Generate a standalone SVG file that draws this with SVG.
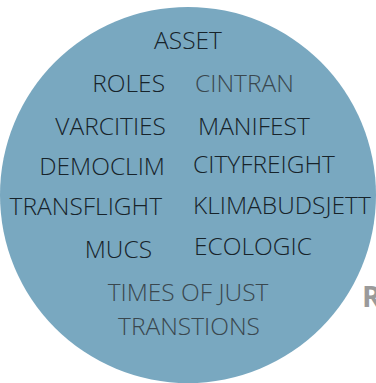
<svg xmlns="http://www.w3.org/2000/svg" width="376" height="383" viewBox="0 0 376 383">
<style>
text{font-family:"Open Sans","Noto Sans","Liberation Sans",sans-serif;font-weight:300;font-size:24.5px;fill:#17232a}
.g{fill:#3a474e}
.l{text-anchor:end}
.c{text-anchor:middle}
.r{font-family:"Open Sans","Liberation Sans",sans-serif;font-weight:700;font-size:29px;fill:#9a9a9a}
</style>
<rect width="376" height="383" fill="#ffffff"/>
<g id="circle"><circle cx="188" cy="195" r="188" fill="#79a8c0"/></g>
<g id="n-asset"><text class="c" x="188" y="49">ASSET</text></g>
<g id="n-roles"><text class="l" x="165" y="92">ROLES</text></g>
<g id="n-cintran"><text class="g" x="195" y="92">CINTRAN</text></g>
<g id="n-varcities"><text class="l" x="166" y="135">VARCITIES</text></g>
<g id="n-manifest"><text x="198" y="135">MANIFEST</text></g>
<g id="n-democlim"><text class="l" x="165" y="175">DEMOCLIM</text></g>
<g id="n-cityfreight"><text x="193" y="173">CITYFREIGHT</text></g>
<g id="n-transflight"><text class="l" x="162" y="215">TRANSFLIGHT</text></g>
<g id="n-klimabudsjett"><text x="193" y="214">KLIMABUDSJETT</text></g>
<g id="n-mucs"><text class="l" x="152" y="258">MUCS</text></g>
<g id="n-ecologic"><text x="194" y="255">ECOLOGIC</text></g>
<g id="n-times"><text class="g c" x="188" y="301">TIMES OF JUST</text><text class="g c" x="189" y="335">TRANSTIONS</text></g>
<g id="n-r"><text class="r" x="362" y="307">R</text></g>
</svg>
